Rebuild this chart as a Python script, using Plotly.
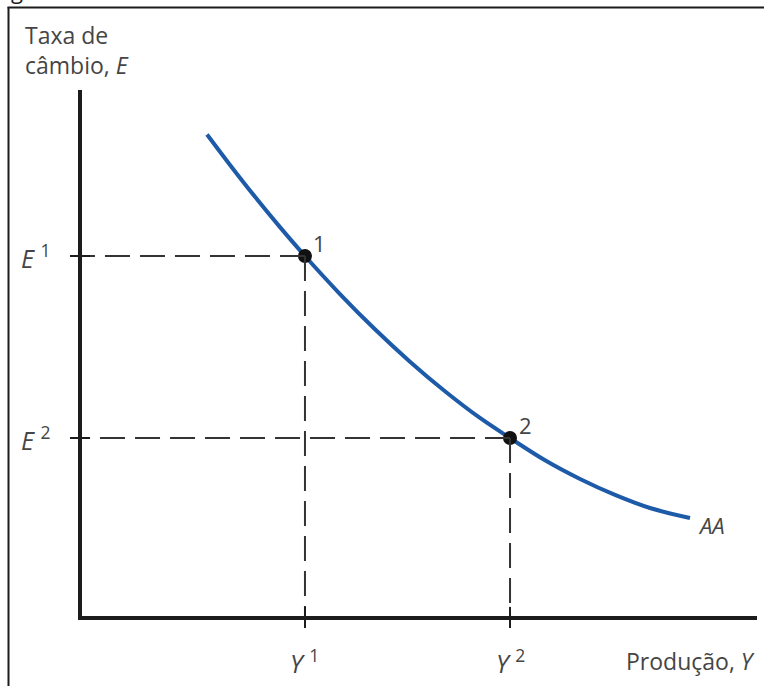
import plotly.graph_objects as go

# AA schedule: output (Y) against exchange rate (E), in model units
aa_y = [1.876, 2.216, 2.585, 2.954, 3.323, 3.840, 4.357, 4.874, 5.391,
        5.908, 6.352, 6.869, 7.386, 7.903, 8.419, 9.010]
aa_e = [9.157, 8.581, 7.977, 7.403, 6.856, 6.136, 5.468, 4.854, 4.294,
        3.788, 3.409, 2.987, 2.633, 2.331, 2.083, 1.894]

# the two equilibrium points on AA
point_labels = ["1", "2"]
point_y = [3.323, 6.352]
point_e = [6.856, 3.409]

# axis extents (model units)
y_max = 10.0
e_max = 10.0

W, H = 764, 686
X_RANGE = [-1.1817, 10.1034]
E_RANGE = [-1.2879, 11.7045]

INK = "#1c1c1c"
TEXT = "#454545"
BLUE = "#1d5aa8"
FONT = "Open Sans"


def px(xp):
    return xp / W


def py(yp):
    return 1 - yp / H


fig = go.Figure()

# dashed guides from each point to the two axes
shapes = []
for yv, ev in zip(point_y, point_e):
    shapes.append(dict(type="line", xref="x", yref="y", x0=yv, y0=ev, x1=0, y1=ev,
                       line=dict(color="#333333", width=2, dash="25px,10px")))
    shapes.append(dict(type="line", xref="x", yref="y", x0=yv, y0=ev, x1=yv, y1=0,
                       line=dict(color="#333333", width=2, dash="25px,10px")))
    # tick marks on the axes
    shapes.append(dict(type="line", xref="x", yref="y", x0=-0.148, x1=0.148, y0=ev, y1=ev,
                       line=dict(color=INK, width=2)))
    shapes.append(dict(type="line", xref="x", yref="y", x0=yv, x1=yv, y0=-0.19, y1=0.21,
                       line=dict(color=INK, width=2)))

# the axes themselves
shapes.append(dict(type="path", xref="x", yref="y",
                   path=f"M 0,{e_max} L 0,0 L {y_max},0",
                   line=dict(color=INK, width=4)))

# outer frame (left and top edges)
shapes.append(dict(type="line", xref="paper", yref="paper",
                   x0=px(8.5), x1=px(8.5), y0=py(7), y1=py(690),
                   line=dict(color=INK, width=2)))
shapes.append(dict(type="line", xref="paper", yref="paper",
                   x0=px(7.5), x1=px(770), y0=py(7.5), y1=py(7.5),
                   line=dict(color=INK, width=2)))

fig.add_trace(go.Scatter(x=aa_y, y=aa_e, mode="lines",
                         line=dict(color=BLUE, width=4, shape="spline"),
                         hoverinfo="skip", showlegend=False))
fig.add_trace(go.Scatter(x=point_y, y=point_e, mode="markers",
                         marker=dict(color="#111111", size=14),
                         hoverinfo="skip", showlegend=False))

ann = []
font = dict(family=FONT, size=23, color=TEXT)
tick_font = dict(family=FONT, size=25, color=TEXT)

ann.append(dict(xref="paper", yref="paper", x=px(23), y=py(50), xanchor="left", yanchor="middle",
                text="Taxa de<br>câmbio, <i>E</i>", align="left", showarrow=False, font=font))
ann.append(dict(xref="paper", yref="paper", x=px(757), y=py(661), xanchor="right", yanchor="middle",
                text="Produção, <i>Y</i>", showarrow=False, font=font))

for i, (yv, ev) in enumerate(zip(point_y, point_e), start=1):
    ann.append(dict(xref="x", yref="y", x=0, y=ev, xshift=-28, xanchor="right", yanchor="middle",
                    text=f"<i>E</i> <sup>{i}</sup>", showarrow=False, font=tick_font))
    ann.append(dict(xref="x", yref="y", x=yv, y=0, yshift=-43, xanchor="center", yanchor="middle",
                    text=f"<i>Y</i> <sup>{i}</sup>", showarrow=False, font=tick_font))

for lab, yv, ev in zip(point_labels, point_y, point_e):
    ann.append(dict(xref="x", yref="y", x=yv, y=ev, xshift=15, yshift=13,
                    xanchor="center", yanchor="middle", text=lab, showarrow=False,
                    font=dict(family=FONT, size=22, color=TEXT)))

ann.append(dict(xref="x", yref="y", x=aa_y[-1], y=aa_e[-1], xshift=6, yshift=-7,
                xanchor="left", yanchor="middle", text="<i>AA</i>", showarrow=False,
                font=dict(family=FONT, size=22, color=TEXT)))

# clipped caption letter at the very top edge
ann.append(dict(xref="paper", yref="paper", x=px(9), y=py(-10), xanchor="left", yanchor="middle",
                text="g", showarrow=False, font=dict(family=FONT, size=22, color=INK)))

fig.update_layout(
    width=W, height=H,
    margin=dict(l=0, r=0, t=0, b=0),
    paper_bgcolor="white", plot_bgcolor="white",
    xaxis=dict(range=X_RANGE, visible=False, fixedrange=True),
    yaxis=dict(range=E_RANGE, visible=False, fixedrange=True),
    shapes=shapes, annotations=ann,
)

fig.write_html("out.html")
